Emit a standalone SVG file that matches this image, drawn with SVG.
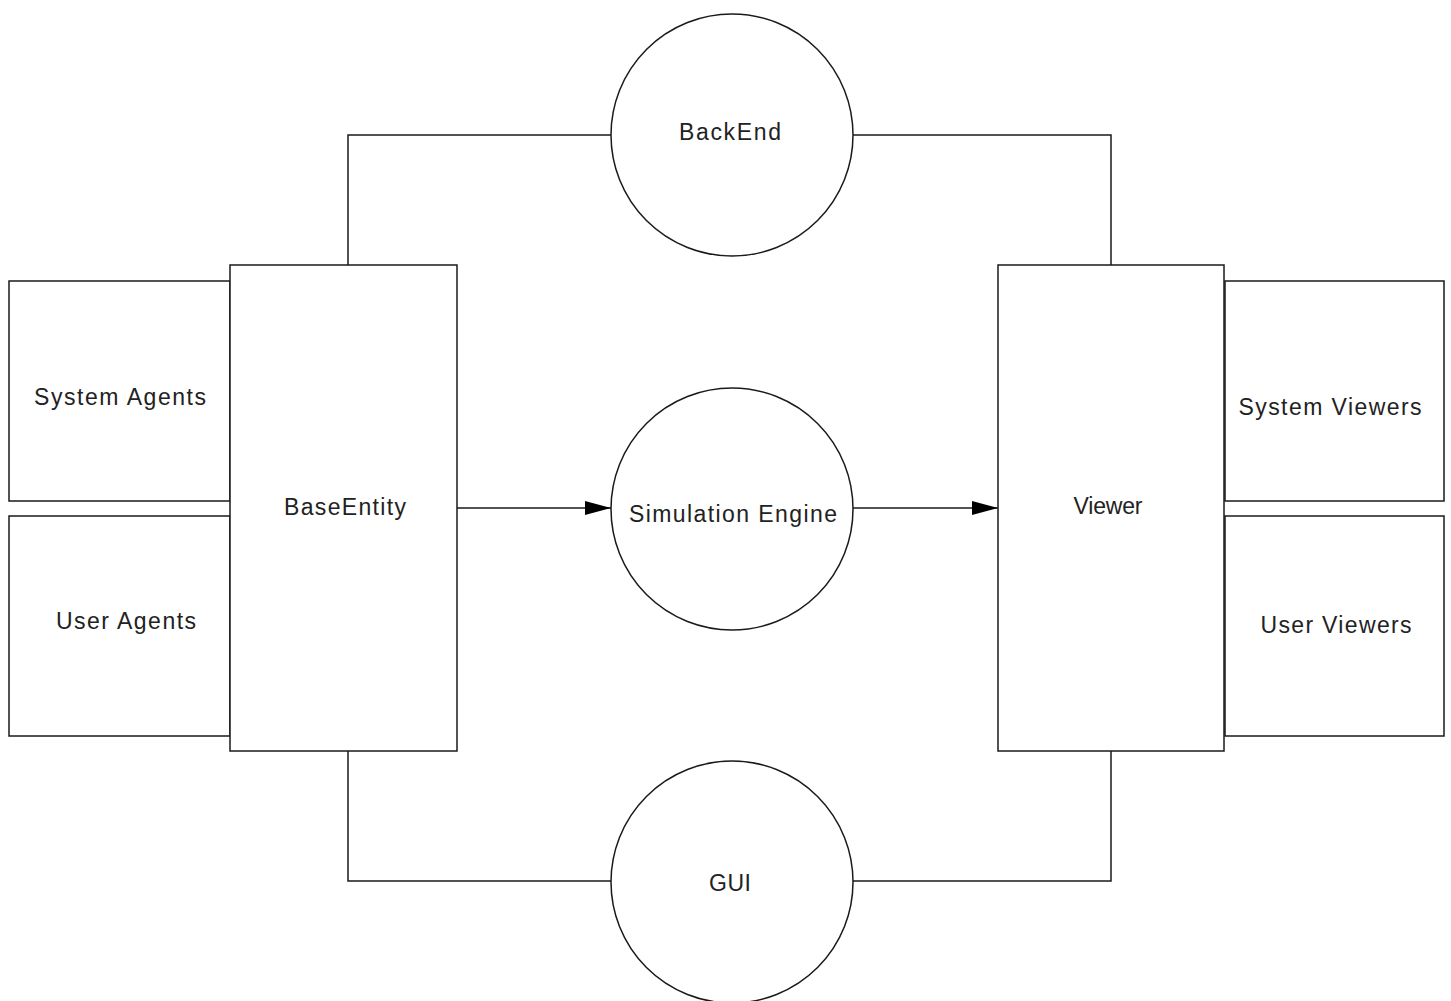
<svg xmlns="http://www.w3.org/2000/svg" width="1451" height="1001" viewBox="0 0 1451 1001">
<style>
.box{fill:#fff;stroke:#1a1a1a;stroke-width:1.5}
.c{fill:#fff;stroke:#1a1a1a;stroke-width:1.5}
.ln{fill:none;stroke:#1a1a1a;stroke-width:1.5}
text{font-family:"Liberation Sans",Arial,sans-serif;font-size:23px;fill:#222;text-anchor:middle}
</style>
<defs>
<marker id="arr" markerWidth="26" markerHeight="14" refX="26" refY="7" orient="auto" markerUnits="userSpaceOnUse">
<path d="M0,0 L26,7 L0,14 Z" fill="#000"/>
</marker>
</defs>
<rect width="1451" height="1001" fill="#fff"/>
<g id="connectors">
<polyline class="ln" points="348,265 348,135 611,135"/>
<polyline class="ln" points="853,135 1111,135 1111,265"/>
<polyline class="ln" points="348,751 348,881 611,881"/>
<polyline class="ln" points="853,881 1111,881 1111,751"/>
<line class="ln" x1="457" y1="508" x2="611" y2="508" marker-end="url(#arr)"/>
<line class="ln" x1="853" y1="508" x2="998" y2="508" marker-end="url(#arr)"/>
</g>
<g id="system-agents"><rect class="box" x="9" y="281" width="221" height="220"/><text x="120" y="405" textLength="172" lengthAdjust="spacing">System Agents</text></g>
<g id="user-agents"><rect class="box" x="9" y="516" width="221" height="220"/><text x="126" y="629" textLength="140" lengthAdjust="spacing">User Agents</text></g>
<g id="base-entity"><rect class="box" x="230" y="265" width="227" height="486"/><text x="345" y="515" textLength="122" lengthAdjust="spacing">BaseEntity</text></g>
<g id="backend"><circle class="c" cx="732" cy="135" r="121"/><text x="730" y="140" textLength="102" lengthAdjust="spacing">BackEnd</text></g>
<g id="simulation-engine"><circle class="c" cx="732" cy="509" r="121"/><text x="733" y="522" textLength="208" lengthAdjust="spacing">Simulation Engine</text></g>
<g id="gui"><circle class="c" cx="732" cy="882" r="121"/><text x="730" y="891" textLength="42" lengthAdjust="spacing">GUI</text></g>
<g id="viewer"><rect class="box" x="998" y="265" width="226" height="486"/><text x="1108" y="514" textLength="69" lengthAdjust="spacing">Viewer</text></g>
<g id="system-viewers"><rect class="box" x="1225" y="281" width="219" height="220"/><text x="1330" y="415" textLength="183" lengthAdjust="spacing">System Viewers</text></g>
<g id="user-viewers"><rect class="box" x="1225" y="516" width="219" height="220"/><text x="1336" y="633" textLength="151" lengthAdjust="spacing">User Viewers</text></g>
</svg>
